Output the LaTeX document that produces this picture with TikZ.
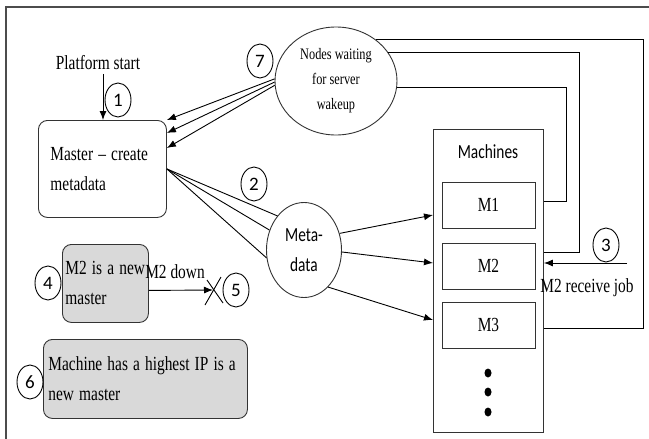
\documentclass[tikz,border=0pt]{standalone}
\usepackage{graphicx}
\usepackage{fontspec}
\setmainfont{Liberation Serif}
\newfontfamily\calibri{Carlito}
\usetikzlibrary{shapes}
\usetikzlibrary{arrows.meta}
\usetikzlibrary{calc}
\definecolor{boxgray}{HTML}{D9D9D9}
\definecolor{edgegray}{HTML}{333333}
\newcommand{\nar}[1]{\scalebox{0.77}[1]{#1}}

\begin{document}
\begin{tikzpicture}[x=1pt, y=-1pt, line width=0.9pt,
    >={Latex[length=9pt,width=7pt]},
    txt/.style={font=\fontsize{20}{30}\selectfont},
    num/.style={draw, ellipse, minimum width=26pt, minimum height=34pt,
      inner sep=0pt, font=\calibri\fontsize{19}{19}\selectfont},
    rbox/.style={draw=edgegray, rounded corners=9pt, txt, align=left,
      anchor=north west, inner ysep=0pt},
    gbox/.style={rbox, fill=boxgray},
    mbox/.style={draw=edgegray, minimum width=93pt, minimum height=46pt, txt},
    blackdot/.style={fill, ellipse, minimum width=7pt, minimum height=9pt, inner sep=0pt}]
    \useasboundingbox (0,0) rectangle (649,439);
    \draw[line width=2pt, black!70] (6,439) -- (6,7) -- (649,7);

    \node[txt] (ps) at (98,63) {\nar{Platform start}};
    \node[rbox, text width=104pt, inner xsep=12pt, minimum height=97pt]
      (master) at (38,120) {\nar{Master – create}\\\nar{metadata}};
    \node[draw=edgegray, ellipse, minimum width=122pt, minimum height=108pt,
      inner sep=0pt, align=center, font=\fontsize{16}{25}\selectfont]
      (wait) at (336,81) {\nar{Nodes waiting}\\\nar{for server}\\\nar{wakeup}};
    \node[draw=edgegray, ellipse, minimum width=75pt, minimum height=95pt,
      inner sep=0pt, align=center, font=\calibri\fontsize{20}{30}\selectfont]
      (meta) at (304,250) {\nar{Meta-}\\\nar{data}};
    \node[gbox, text width=80pt, inner xsep=3pt, minimum height=78pt]
      (newm) at (62,244) {\nar{M2 is a new}\\\nar{master}};
    \node[gbox, text width=194pt, inner xsep=5pt, minimum height=79pt]
      (ipm) at (43,339) {\nar{Machine has a highest IP is a}\\\nar{new master}};

    \node[draw=edgegray, minimum width=110pt, minimum height=303pt,
      anchor=north west] (mach) at (433,129) {};
    \node[font=\calibri\fontsize{20}{24}\selectfont] (machlbl) at (488,152) {\nar{Machines}};
    \foreach \i/\y in {1/205, 2/266, 3/325}
      \node[mbox] (m\i) at (488.5,\y) {\nar{M\i}};
    \foreach \i/\y in {1/373, 2/392, 3/412}
      \node[blackdot] (dot\i) at (488,\y) {};

    \node[num] (n1) at (118,100) {1};
    \node[num] (n2) at (254,184) {2};
    \node[num] (n3) at (606,245) {3};
    \node[num] (n4) at (48,283) {4};
    \node[num] (n5) at (236,290) {5};
    \node[num] (n6) at (30,382) {6};
    \node[num] (n7) at (260,61) {7};

    \draw[->] ([xshift=5pt]ps.south) -- ([xshift=5pt]ps.south |- master.north);
    \foreach \a/\s in {178/0, 181/-13, 184/-28}
      \draw[->] (wait.\a) -- ([yshift=\s pt]master.north east);
    \foreach \a in {128, 150, 192}
      \draw (master.east) -- (meta.\a);

    \draw[->] (meta.25) -- ($(m1.west -| mach.west)+(0,10)$);
    \draw[->] (meta.357) -- ($(m2.west -| mach.west)+(0,-3)$);
    \draw[->] (meta.303) -- ($(m3.west -| mach.west)+(0,-5)$);

    \coordinate (ra) at (643,328);
    \coordinate (rb) at (579,252);
    \coordinate (rc) at (566,201);
    \draw (wait.46) -| (ra) -- (ra -| mach.east);
    \draw (wait.29) -| (rb) -- (rb -| mach.east);
    \draw (wait.354) -| (rc) -- (rc -| mach.east);

    \coordinate (rj) at (627,263);
    \draw[->] (rj) -- (rj -| mach.east);
    \node[txt] (rjl) at (587,288) {\nar{M2 receive job}};

    \coordinate (down) at (213,290);
    \draw[->] ($(newm.east)+(0,7)$) -- (down);
    \node[txt] (dl) at (175,272) {\nar{M2 down}};
    \draw ($(down)+(-8,15)$) -- ($(down)+(8,-13)$);
    \draw ($(down)+(-6,-10)$) -- ($(down)+(10,13)$);
\end{tikzpicture}
\end{document}
